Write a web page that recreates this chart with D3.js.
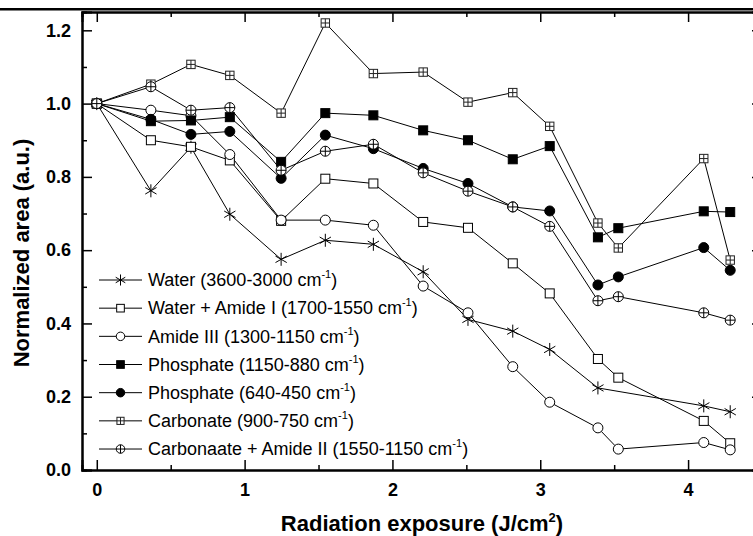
<!DOCTYPE html>
<html>
<head>
<meta charset="utf-8">
<script src="https://cdn.jsdelivr.net/npm/d3@7"></script>
<style>
    body { margin: 0; background: #fff; }
    svg { display: block; font-family: "Liberation Sans", Arial, sans-serif; }
</style>
</head>
<body>
<svg id="chart"></svg>
<script>
// Radiation exposure (J/cm2) of each measurement
const exposure = [0, 0.366, 0.637, 0.90, 1.247, 1.546, 1.871, 2.208, 2.511, 2.814, 3.064, 3.39, 3.528, 4.106, 4.285];

// Normalized band areas, one array per band (null = not measured)
const water = [1.0, 0.762, 0.881, 0.698, 0.575, 0.627, 0.616, 0.541, 0.411, 0.379, 0.329, 0.224, null, 0.175, 0.159];
const waterAmideI = [1.0, 0.90, 0.882, 0.845, 0.68, 0.795, 0.782, 0.677, 0.661, 0.564, 0.482, 0.303, 0.252, 0.134, 0.073];
const amideIII = [1.0, 0.982, 0.967, 0.861, 0.682, 0.682, 0.668, 0.502, 0.429, 0.282, 0.185, 0.115, 0.057, 0.075, 0.055];
const phosphate1150 = [1.0, 0.952, 0.954, 0.963, 0.841, 0.974, 0.968, 0.927, 0.90, 0.848, 0.884, 0.635, 0.66, 0.706, 0.704];
const phosphate640 = [1.0, 0.957, 0.916, 0.924, 0.796, 0.914, 0.877, 0.823, 0.782, 0.718, 0.707, 0.505, 0.527, 0.607, 0.545];
const carbonate = [1.0, 1.053, 1.107, 1.077, 0.974, 1.22, 1.082, 1.086, 1.004, 1.030, 0.938, 0.674, 0.606, 0.85, 0.573];
const carbonateAmideII = [1.0, 1.046, 0.982, 0.989, 0.818, 0.87, 0.889, 0.811, 0.761, 0.718, 0.665, 0.462, 0.473, 0.429, 0.409];

const seriesNames = ["Water (3600-3000 cm", "Water + Amide I (1700-1550 cm", "Amide III (1300-1150 cm",
    "Phosphate (1150-880 cm", "Phosphate (640-450 cm", "Carbonate (900-750 cm", "Carbonaate + Amide II (1550-1150 cm"];
const seriesValues = [water, waterAmideI, amideIII, phosphate1150, phosphate640, carbonate, carbonateAmideII];
const seriesSymbols = ["star", "square", "circle", "squareFilled", "circleFilled", "squarePlus", "circlePlus"];

const xTicks = [0, 1, 2, 3, 4];
const xMinorTicks = [0.5, 1.5, 2.5, 3.5];
const yTicks = [0, 0.2, 0.4, 0.6, 0.8, 1.0, 1.2];
const yMinorTicks = [0.1, 0.3, 0.5, 0.7, 0.9, 1.1];

const width = 753, height = 536;
const svg = d3.select("#chart").attr("width", width).attr("height", height);

const x = d3.scaleLinear().domain([-0.1, 4.5]).range([82, 762]);
const y = d3.scaleLinear().domain([0, 1.25]).range([470, 12]);

// rule above the figure
svg.append("line")
    .attr("x1", 0).attr("x2", width)
    .attr("y1", 9.3).attr("y2", 9.3)
    .attr("stroke", "#000").attr("stroke-width", 2.6);

function styleAxis(g) {
    g.select(".domain").attr("stroke-width", 2);
    g.selectAll(".tick line").attr("stroke-width", 1.5);
    g.selectAll(".tick text")
        .attr("fill", "#000")
        .style("font-size", "18px")
        .style("font-weight", "bold");
}

function addAxis(axis, translate) {
    return svg.append("g")
        .attr("transform", translate)
        .call(axis)
        .call(styleAxis);
}

const fmtY = d3.format(".1f");

// Major and minor ticks, all pointing inwards
addAxis(d3.axisBottom(x).tickValues(xTicks).tickSize(-10).tickPadding(13).tickFormat(d3.format("d")), "translate(0,470)");
addAxis(d3.axisBottom(x).tickValues(xMinorTicks).tickSize(-5).tickFormat(""), "translate(0,470)");
addAxis(d3.axisTop(x).tickValues(xTicks).tickSize(-10).tickFormat(""), "translate(0,12)");
addAxis(d3.axisTop(x).tickValues(xMinorTicks).tickSize(-5).tickFormat(""), "translate(0,12)");
addAxis(d3.axisLeft(y).tickValues(yTicks).tickSize(-10).tickPadding(11).tickFormat(fmtY), "translate(82,0)");
addAxis(d3.axisLeft(y).tickValues(yMinorTicks).tickSize(-5).tickFormat(""), "translate(82,0)");
addAxis(d3.axisRight(y).tickValues(yTicks).tickSize(-10).tickFormat(""), "translate(762,0)");
addAxis(d3.axisRight(y).tickValues(yMinorTicks).tickSize(-5).tickFormat(""), "translate(762,0)");

svg.selectAll(".domain").attr("stroke", "#000");

// Axis titles
const xTitle = svg.append("text")
    .attr("x", 422).attr("y", 531)
    .attr("text-anchor", "middle")
    .style("font-size", "22px").style("font-weight", "bold");
xTitle.append("tspan").text("Radiation exposure (J/cm");
xTitle.append("tspan").attr("dy", -9).style("font-size", "13px").text("2");
xTitle.append("tspan").attr("dy", 9).text(")");

svg.append("text")
    .attr("transform", "translate(29,253) rotate(-90)")
    .attr("text-anchor", "middle")
    .style("font-size", "22px").style("font-weight", "bold")
    .text("Normalized area (a.u.)");

// Symbols
function drawSymbol(g, type, k) {
    const stroke = "#000";
    if (type === "star") {
        const r = 6.5 * k, c = r * Math.cos(Math.PI / 6), s = r * Math.sin(Math.PI / 6);
        g.append("path")
            .attr("d", `M0,${-r}L0,${r}M${-c},${-s}L${c},${s}M${-c},${s}L${c},${-s}`)
            .attr("stroke", stroke).attr("stroke-width", 1).attr("fill", "none");
    } else if (type === "square" || type === "squareFilled") {
        const h = 4.5 * k;
        g.append("rect")
            .attr("x", -h).attr("y", -h).attr("width", 2 * h).attr("height", 2 * h)
            .attr("fill", type === "square" ? "#fff" : "#000")
            .attr("stroke", stroke).attr("stroke-width", 1);
    } else if (type === "circle" || type === "circleFilled") {
        g.append("circle")
            .attr("r", 5 * k)
            .attr("fill", type === "circle" ? "#fff" : "#000")
            .attr("stroke", stroke).attr("stroke-width", 1);
    } else if (type === "squarePlus") {
        const h = 4.2 * k;
        g.append("rect")
            .attr("x", -h).attr("y", -h).attr("width", 2 * h).attr("height", 2 * h)
            .attr("fill", "#fff").attr("stroke", "#222").attr("stroke-width", 1);
        g.append("path")
            .attr("d", `M0,${-h}L0,${h}M${-h},0L${h},0`)
            .attr("stroke", "#222").attr("stroke-width", 1);
    } else if (type === "circlePlus") {
        const r = 5 * k;
        g.append("circle")
            .attr("r", r).attr("fill", "#fff")
            .attr("stroke", stroke).attr("stroke-width", 1);
        g.append("path")
            .attr("d", `M0,${-r}L0,${r}M${-r},0L${r},0`)
            .attr("stroke", stroke).attr("stroke-width", 1);
    }
}

const line = d3.line()
    .x(d => x(d.x))
    .y(d => y(d.y));

const series = seriesValues.map((vals, i) => ({
    name: seriesNames[i],
    symbol: seriesSymbols[i],
    points: vals.map((v, j) => ({ x: exposure[j], y: v })).filter(p => p.y !== null)
}));

// Lines first, then markers on top
svg.append("g").selectAll("path")
    .data(series)
    .enter()
    .append("path")
    .attr("d", d => line(d.points))
    .attr("fill", "none")
    .attr("stroke", "#000")
    .attr("stroke-width", 1);

series.forEach(s => {
    const g = svg.append("g");
    s.points.forEach(p => {
        const m = g.append("g").attr("transform", "translate(" + x(p.x) + "," + y(p.y) + ")");
        drawSymbol(m, s.symbol, 1);
    });
});

// Legend
const legend = svg.append("g");
series.forEach((s, i) => {
    const cy = 280 + i * 28.17;
    legend.append("line")
        .attr("x1", 99).attr("x2", 142)
        .attr("y1", cy).attr("y2", cy)
        .attr("stroke", "#000").attr("stroke-width", 1);
    drawSymbol(legend.append("g").attr("transform", "translate(120.5," + cy + ")"), s.symbol, 0.85);
    const t = legend.append("text")
        .attr("x", 148).attr("y", cy + 6.3)
        .style("font-size", "18px");
    t.append("tspan").text(s.name);
    t.append("tspan").attr("dy", -8).style("font-size", "11px").text("-1");
    t.append("tspan").attr("dy", 8).text(")");
});
</script>
</body>
</html>
